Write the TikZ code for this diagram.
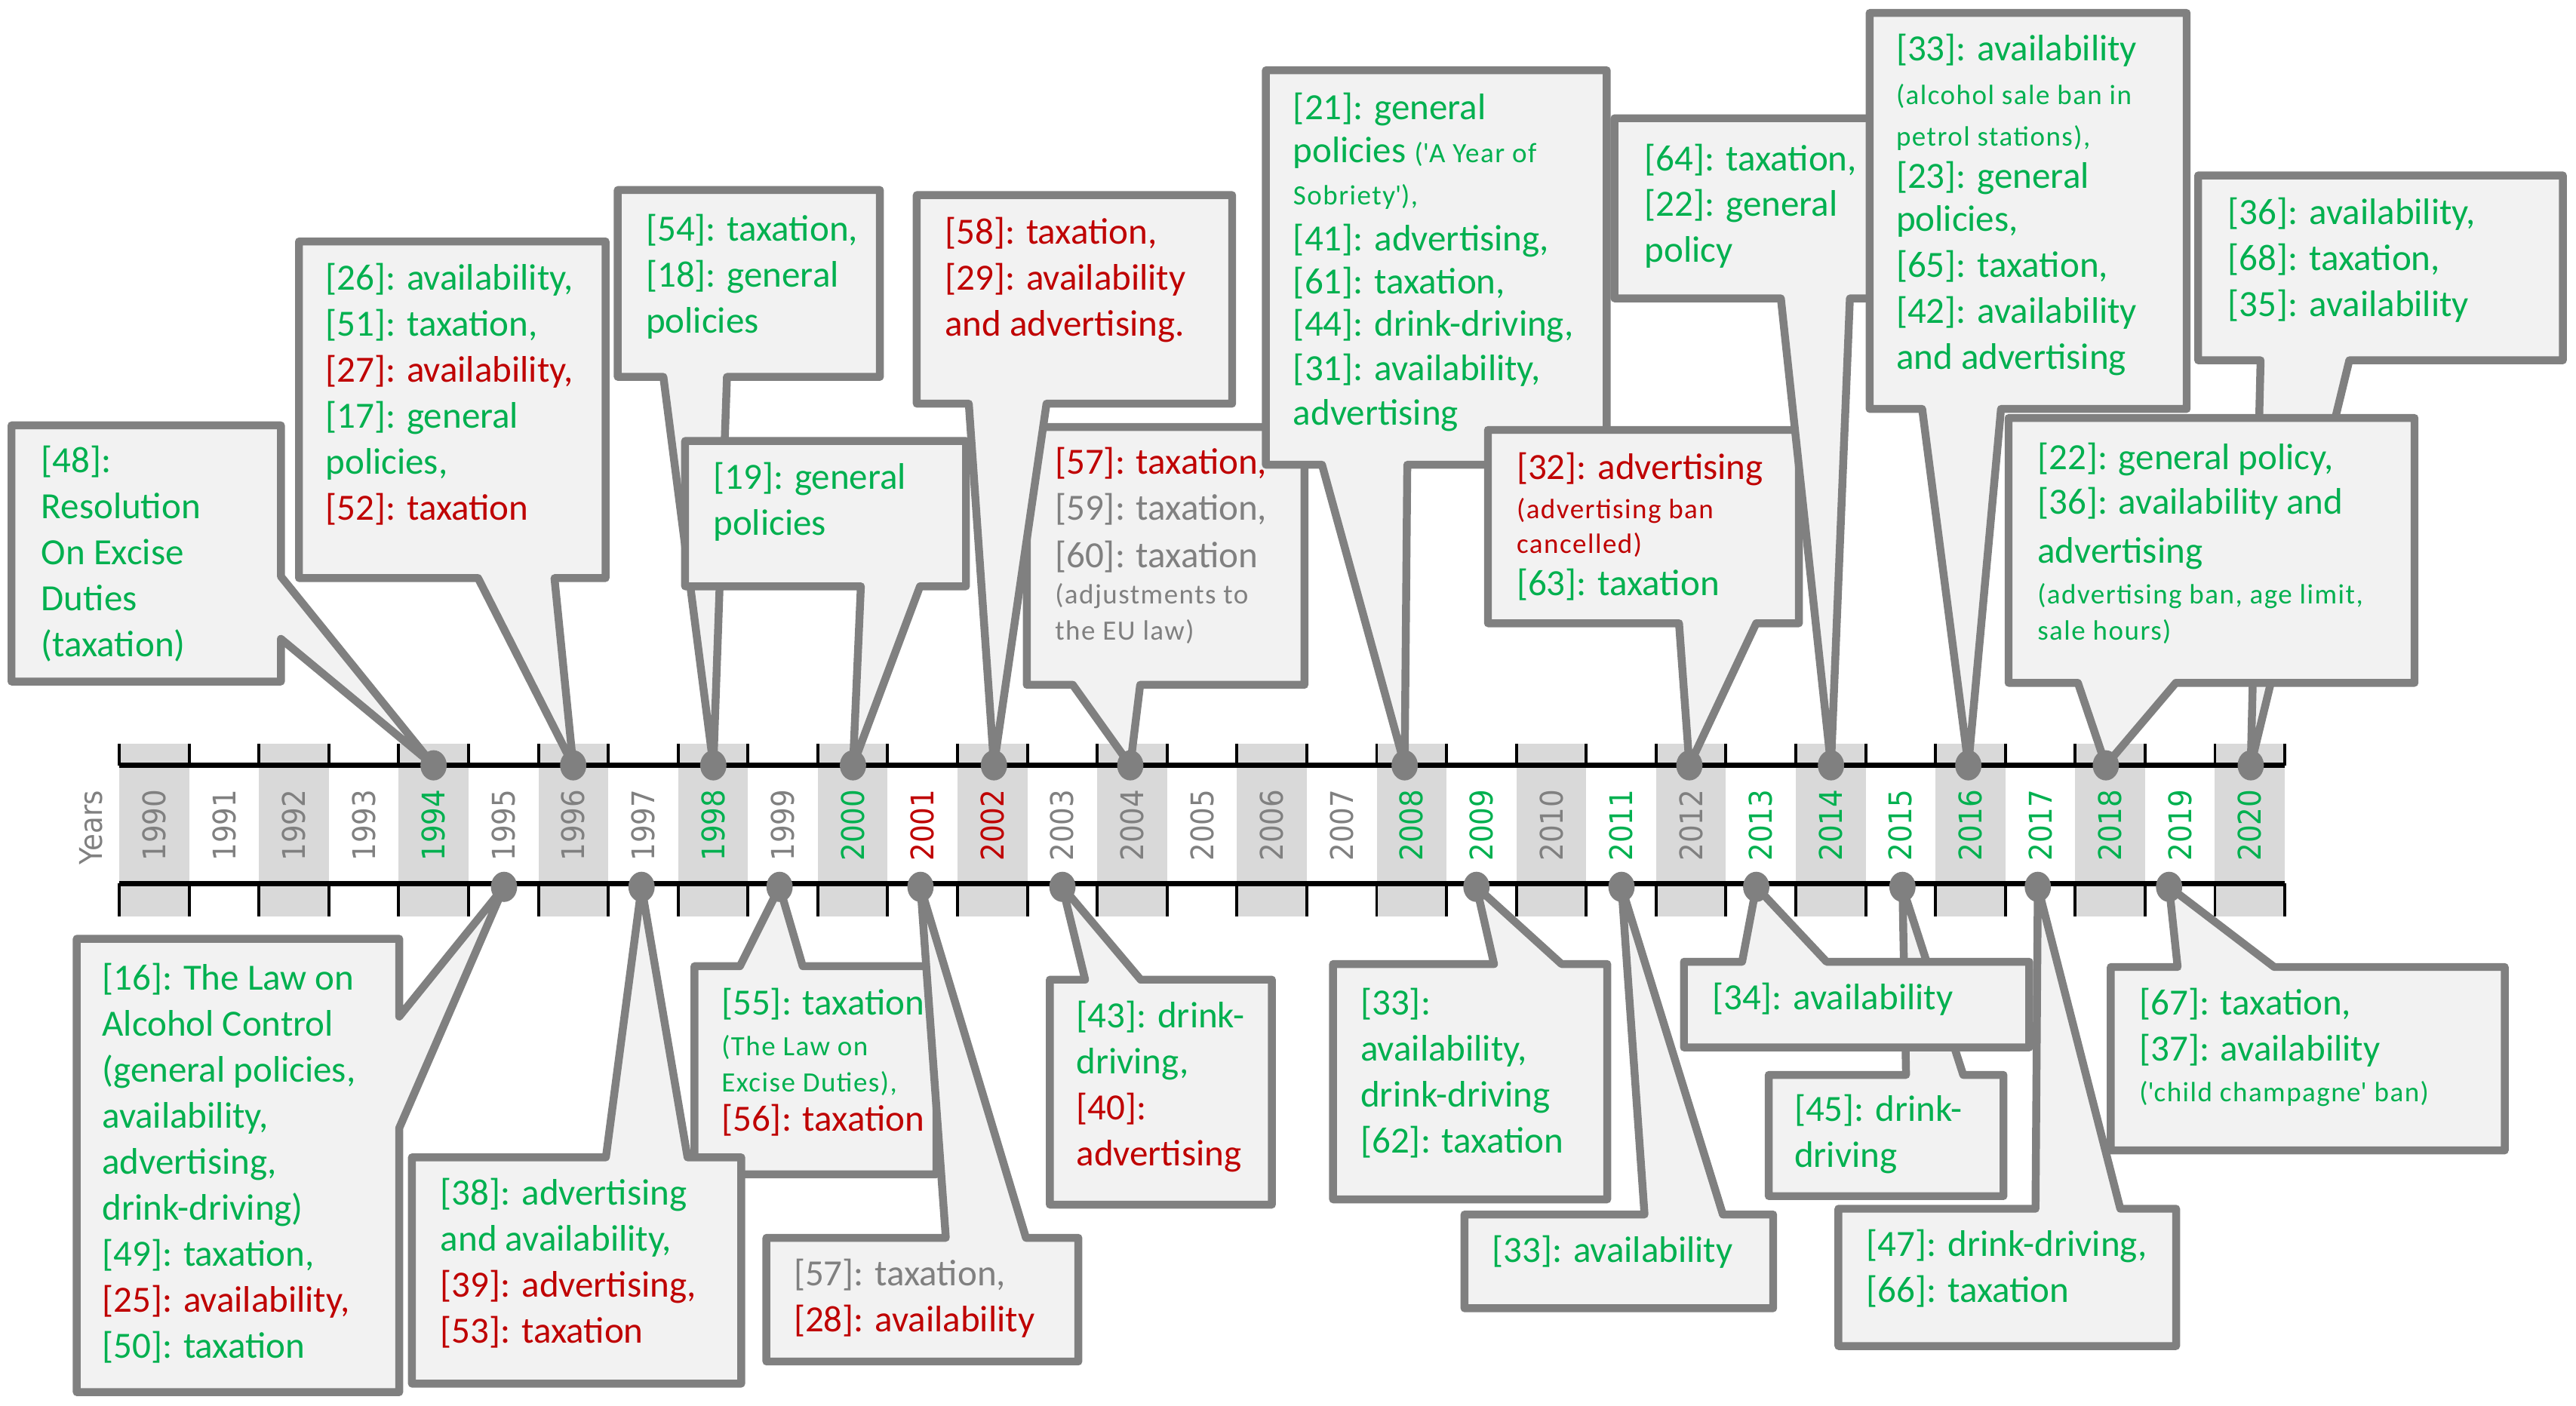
\documentclass[tikz,border=0pt]{standalone}
\usepackage{graphicx}
\usepackage{fontspec}
\setmainfont{Carlito}
\newfontfamily\yearfont{DejaVu Sans}
\newfontfamily\notefont[LetterSpace=4]{Carlito}
\usetikzlibrary{shapes.geometric}
\definecolor{GreenClr}{rgb}{0,0.69,0.31}
\definecolor{RedClr}{rgb}{0.75,0,0}
\definecolor{GreyClr}{rgb}{0.5,0.5,0.5}
\definecolor{BoxClr}{rgb}{0.95,0.95,0.95}
\definecolor{ShadeClr}{rgb}{0.85,0.85,0.85}
\newcommand\grn[1]{\textcolor{GreenClr}{#1}}
\newcommand\rd[1]{\textcolor{RedClr}{#1}}
\newcommand\gy[1]{\textcolor{GreyClr}{#1}}
\newcommand\nte[1]{{\fontsize{17}{22}\notefont #1}}
\tikzset{
  bubble/.style={draw=GreyClr,fill=BoxClr,line width=4.8pt,line join=round},
  txt/.style={anchor=north west,inner sep=0pt,align=left,text=GreenClr,font=\fontsize{22.5}{28}\selectfont},
  dot/.style={ellipse,fill=GreyClr,minimum width=16pt,minimum height=18.4pt,inner sep=0pt},
  yr/.style={rotate=90,inner sep=0pt,font=\fontsize{19}{19}\yearfont}
}

\begin{document}
\begin{tikzpicture}[x=1pt,y=-1pt]
\useasboundingbox (0,0) rectangle (1568,855.7);

% timeline
\foreach \yr/\clr in {1990/GreyClr,1991/GreyClr,1992/GreyClr,1993/GreyClr,1994/GreenClr,
  1995/GreyClr,1996/GreyClr,1997/GreyClr,1998/GreenClr,1999/GreyClr,2000/GreenClr,
  2001/RedClr,2002/RedClr,2003/GreyClr,2004/GreyClr,2005/GreyClr,2006/GreyClr,
  2007/GreyClr,2008/GreenClr,2009/GreenClr,2010/GreyClr,2011/GreenClr,2012/GreyClr,
  2013/GreenClr,2014/GreenClr,2015/GreenClr,2016/GreenClr,2017/GreenClr,
  2018/GreenClr,2019/GreenClr,2020/GreenClr}{
  \pgfmathsetmacro\xl{72.6+42.52*(\yr-1990)}
  \ifodd\yr\relax\else\fill[ShadeClr] (\xl,453) rectangle (\xl+42.52,558);\fi
  \node[yr,text=\clr] (y\yr) at (\xl+21.26,502.5) {\scalebox{0.9}[1]{\yr}};
}
\foreach \i in {0,...,31}
  \draw[line width=1.8pt] (72.6+42.52*\i,453) -- (72.6+42.52*\i,466)
                          (72.6+42.52*\i,538) -- (72.6+42.52*\i,558);
\draw[line width=3.4pt] (72.6,466) -- (1390.7,466) (72.6,538) -- (1390.7,538);
\node[yr,text=GreyClr] (years) at (55.5,504) {\scalebox{0.9}[1]{Years}};

% event points
\coordinate (p1994) at (263.9,466);
\coordinate (p1996) at (348.9,466);
\coordinate (p1998) at (434.2,466);
\coordinate (p2000) at (519.2,466);
\coordinate (p2002) at (605,466);
\coordinate (p2004) at (688,466);
\coordinate (p2008) at (855,466);
\coordinate (p2012) at (1028.3,466);
\coordinate (p2014) at (1114.5,466);
\coordinate (p2016) at (1198.1,466);
\coordinate (p2018) at (1281.8,466);
\coordinate (p2020) at (1370,466);
\coordinate (p1995) at (306.8,540);
\coordinate (p1997) at (390.5,540);
\coordinate (p1999) at (474.5,540);
\coordinate (p2001) at (560.3,540);
\coordinate (p2003) at (646.7,540);
\coordinate (p2009) at (898.7,540);
\coordinate (p2011) at (987,540);
\coordinate (p2013) at (1069,540);
\coordinate (p2015) at (1158,540);
\coordinate (p2017) at (1240.4,540);
\coordinate (p2019) at (1320.3,540);

% callouts above the line
\draw[bubble] (7,259) -- (171,259) -- (171,351) -- (p1994) -- (171,389) -- (171,415) -- (7,415) -- cycle;
\node[txt] (t1994) at (25,268) {\strut\grn{[48]:}\\Resolution\\On Excise\\Duties\\(taxation)};

\draw[bubble] (182,147) -- (368.6,147) -- (368.6,352) -- (337.5,352) -- (p1996) -- (291,352) -- (182,352) -- cycle;
\node[txt] (t1996) at (198,157) {\strut\grn{[26]: availability,}\\\grn{[51]: taxation,}\\\rd{[27]: availability,}\\\grn{[17]: general}\\policies,\\\rd{[52]: taxation}};

\draw[bubble] (376,115.7) -- (535.6,115.7) -- (535.6,229.5) -- (442.5,229.5) -- (p1998) -- (403.8,229.5) -- (376,229.5) -- cycle;
\node[txt] (t1998) at (393,127) {\strut\grn{[54]: taxation,}\\\grn{[18]: general}\\policies};

\draw[bubble] (417,268.5) -- (588,268.5) -- (588,357) -- (560,357) -- (p2000) -- (524,357) -- (417,357) -- cycle;
\node[txt] (t2000) at (434,278) {\strut\grn{[19]: general}\\policies};

\draw[bubble] (625,260) -- (794,260) -- (794,417) -- (694,417) -- (p2004) -- (653,417) -- (625,417) -- cycle;
\node[txt] (t2004) at (642,269) {\strut\rd{[57]: taxation,}\\\gy{[59]: taxation,}\\[1pt]\gy{[60]: taxation}\\[-6pt]\gy{\nte{(adjustments to}}\\[-6pt]\gy{\nte{the EU law)}}};

\draw[bubble] (558,118.8) -- (750,118.8) -- (750,245.8) -- (637,245.8) -- (p2002) -- (589.7,245.8) -- (558,245.8) -- cycle;
\node[txt] (t2002) at (575,129) {\strut\rd{[58]: taxation,}\\\rd{[29]: availability}\\\rd{and advertising.}};

\draw[bubble] (770.5,42.8) -- (978,42.8) -- (978,283) -- (856.6,283) -- (p2008) -- (804.7,283) -- (770.5,283) -- cycle;
\node[txt] (t2008) at (787,53) {\strut\grn{[21]: general}\\[-2pt]policies \nte{(\textquotesingle A Year of}\\[-2pt]\nte{Sobriety\textquotesingle),}\\\grn{[41]: advertising,}\\[-2pt]\grn{[61]: taxation,}\\[-2pt]\grn{[44]: drink-driving,}\\[-1pt]\grn{[31]: availability,}\\[-1pt]advertising};

\draw[bubble] (905.7,261.8) -- (1095,261.8) -- (1095,379.5) -- (1069,379.5) -- (p2012) -- (1022,379.5) -- (905.7,379.5) -- cycle;
\node[txt] (t2012) at (923,272) {\strut\rd{[32]: advertising}\\[-4pt]\rd{\nte{(advertising ban}}\\[-7pt]\rd{\nte{cancelled)}}\\[-2pt]\grn{[63]: taxation}};

\draw[bubble] (982.7,72) -- (1150,72) -- (1150,181.7) -- (1126,181.7) -- (p2014) -- (1084,181.7) -- (982.7,181.7) -- cycle;
\node[txt] (t2014) at (1001,84) {\strut\grn{[64]: taxation,}\\\grn{[22]: general}\\policy};

\draw[bubble] (1138,7.9) -- (1331,7.9) -- (1331,249) -- (1218,249) -- (p2016) -- (1170,249) -- (1138,249) -- cycle;
\node[txt] (t2016) at (1154,17) {\strut\grn{[33]: availability}\\[-1pt]\nte{(alcohol sale ban in}\\[-3pt]\nte{petrol stations),}\\[-2pt]\grn{[23]: general}\\[-2pt]policies,\\\grn{[65]: taxation,}\\\grn{[42]: availability}\\and advertising};

\draw[bubble] (1338,106.8) -- (1560,106.8) -- (1560,219.4) -- (1430,219.4) -- (p2020) -- (1376,219.4) -- (1338,219.4) -- cycle;
\node[txt] (t2020) at (1356,117) {\strut\grn{[36]: availability,}\\\grn{[68]: taxation,}\\\grn{[35]: availability}};

\draw[bubble] (1222.6,254.5) -- (1469.7,254.5) -- (1469.7,415.8) -- (1324.4,415.8) -- (p2018) -- (1264.8,415.8) -- (1222.6,415.8) -- cycle;
\node[txt] (t2018) at (1240,266) {\strut\grn{[22]: general policy,}\\[-1pt]\grn{[36]: availability and}\\[2pt]advertising\\[-3pt]\nte{(advertising ban, age limit,}\\[-6pt]\nte{sale hours)}};

% callouts below the line
\draw[bubble] (46.7,571.6) -- (243,571.6) -- (243,619) -- (p1995) -- (243,686.9) -- (243,847.7) -- (46.7,847.7) -- cycle;
\node[txt] (t1995) at (62,583) {\strut\grn{[16]: The Law on}\\Alcohol Control\\(general policies,\\availability,\\advertising,\\drink-driving)\\\grn{[49]: taxation,}\\\rd{[25]: availability,}\\\grn{[50]: taxation}};

\draw[bubble] (422.7,588.3) -- (450.4,588.3) -- (p1999) -- (488.6,588.3) -- (570,588.3) -- (570,715) -- (422.7,715) -- cycle;
\node[txt] (t1999) at (439,598) {\strut\grn{[55]: taxation}\\[-3pt]\nte{(The Law on}\\[-6pt]\nte{Excise Duties),}\\[-4pt]\rd{[56]: taxation}};

\draw[bubble] (250.7,704.7) -- (368.8,704.7) -- (p1997) -- (418.5,704.7) -- (451.2,704.7) -- (451.2,842.5) -- (250.7,842.5) -- cycle;
\node[txt] (t1997) at (268,714) {\strut\grn{[38]: advertising}\\and availability,\\\rd{[39]: advertising,}\\\rd{[53]: taxation}};

\draw[bubble] (466.5,753.7) -- (575.7,753.7) -- (p2001) -- (624.5,753.7) -- (656.4,753.7) -- (656.4,829) -- (466.5,829) -- cycle;
\node[txt] (t2001) at (483,763) {\strut\gy{[57]: taxation,}\\\rd{[28]: availability}};

\draw[bubble] (639,596.5) -- (660.5,596.5) -- (p2003) -- (694.3,596.5) -- (774.2,596.5) -- (774.2,733.5) -- (639,733.5) -- cycle;
\node[txt] (t2003) at (655,606) {\strut\grn{[43]: drink-}\\driving,\\\rd{[40]:}\\\rd{advertising}};

\draw[bubble] (811.4,587) -- (909.4,587) -- (p2009) -- (950.5,587) -- (978.3,587) -- (978.3,730.3) -- (811.4,730.3) -- cycle;
\node[txt] (t2009) at (828,598) {\strut\grn{[33]:}\\availability,\\drink-driving\\\grn{[62]: taxation}};

\draw[bubble] (891.4,739.5) -- (1001,739.5) -- (p2011) -- (1048.7,739.5) -- (1079.3,739.5) -- (1079.3,796.6) -- (891.4,796.6) -- cycle;
\node[txt] (t2011) at (908,749) {\strut\grn{[33]: availability}};

\draw[bubble] (1076.6,654.5) -- (1160.2,654.5) -- (p2015) -- (1195,654.5) -- (1219.5,654.5) -- (1219.5,728.3) -- (1076.6,728.3) -- cycle;
\node[txt] (t2015) at (1092,663) {\strut\grn{[45]: drink-}\\driving};

\draw[bubble] (1025,585.6) -- (1060.4,585.6) -- (p2013) -- (1111.8,585.6) -- (1235.2,585.6) -- (1235.2,637.8) -- (1025,637.8) -- cycle;
\node[txt] (t2013) at (1042,595) {\strut\grn{[34]: availability}};

\draw[bubble] (1119,736) -- (1239,736) -- (p2017) -- (1290.6,736) -- (1324.6,736) -- (1324.6,819.6) -- (1119,819.6) -- cycle;
\node[txt] (t2017) at (1136,745) {\strut\grn{[47]: drink-driving,}\\\grn{[66]: taxation}};

\draw[bubble] (1284.8,588.8) -- (1325.5,588.8) -- (p2019) -- (1384.3,588.8) -- (1524.6,588.8) -- (1524.6,700.5) -- (1284.8,700.5) -- cycle;
\node[txt] (t2019) at (1302,598) {\strut\grn{[67]: taxation,}\\\grn{[37]: availability}\\[-3pt]\nte{(\textquotesingle child champagne\textquotesingle{} ban)}};

% dots on the line
\foreach \p in {1994,1996,1998,2000,2002,2004,2008,2012,2014,2016,2018,2020,
                1995,1997,1999,2001,2003,2009,2011,2013,2015,2017,2019}
  \node[dot] (d\p) at (p\p) {};
\end{tikzpicture}
\end{document}
